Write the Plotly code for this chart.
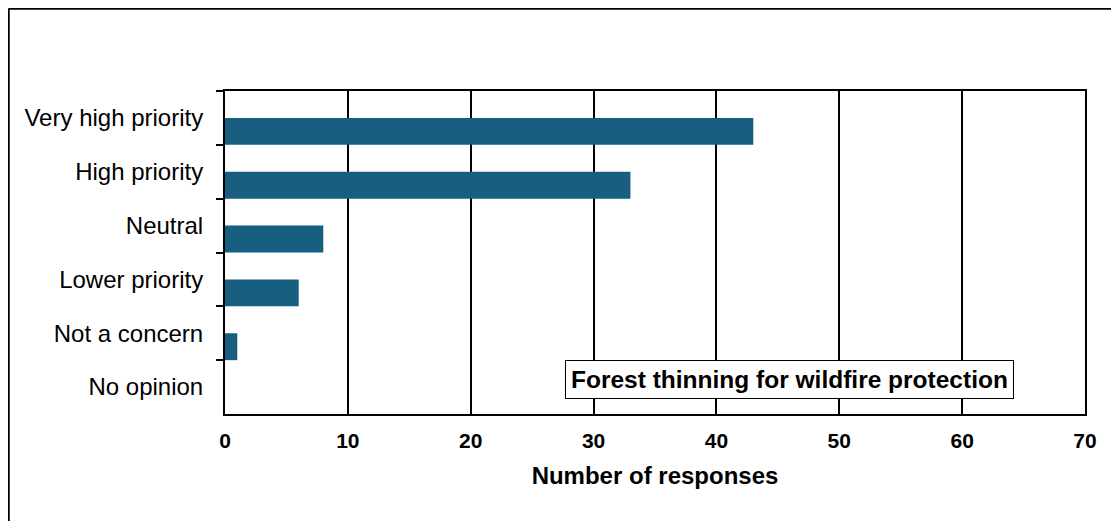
import plotly.graph_objects as go

categories = ["Very high priority", "High priority", "Neutral", "Lower priority", "Not a concern", "No opinion"]
responses = [43, 33, 8, 6, 1, 0]
x_ticks = [0, 10, 20, 30, 40, 50, 60, 70]
x_title = "Number of responses"
chart_label = "Forest thinning for wildfire protection"

# page body has an 8px margin; work in screen pixels and convert
OFF = 8
W, H = 1111, 513
PL, PR, PT, PB = 225, 1085, 91, 414  # plot area in screen pixels
L, T = PL - OFF, PT - OFF
R = W - (PR - OFF)
B = H - (PB - OFF)
pw, ph = PR - PL, PB - PT

def px_x(px):
    return (px - PL) / pw

def px_y(py):
    return (PB - py) / ph

fig = go.Figure()
fig.add_trace(go.Bar(
    y=categories, x=responses, orientation="h",
    marker=dict(color="#175E80", line=dict(width=0)),
    width=0.5, offset=0,
))

font_family = "Arial, Liberation Sans, sans-serif"

fig.update_layout(
    width=W, height=H,
    margin=dict(l=L, r=R, t=T, b=B),
    paper_bgcolor="white", plot_bgcolor="white",
    showlegend=False,
    font=dict(family=font_family, color="black"),
    xaxis=dict(
        range=[0, 70], tickvals=x_ticks, ticktext=[str(v) for v in x_ticks],
        showgrid=True, gridcolor="black", gridwidth=1.5,
        showline=True, linecolor="black", linewidth=2, mirror=True,
        ticks="", zeroline=False,
        tickfont=dict(size=21, family=font_family, weight="bold"),
        ticklabelstandoff=7,
        title=dict(text=x_title, font=dict(size=24, family=font_family, weight="bold"), standoff=16),
    ),
    yaxis=dict(
        categoryorder="array", categoryarray=categories, autorange="reversed",
        showgrid=False, showline=True, linecolor="black", linewidth=2, mirror=True,
        ticks="outside", ticklen=7, tickwidth=1.5, tickcolor="black", tickson="boundaries",
        tickfont=dict(size=24, family=font_family),
        ticklabelstandoff=15,
    ),
    bargap=0.5,
)

fig.add_annotation(
    text="<b>" + chart_label + "</b>",
    xref="paper", yref="paper", x=px_x(789), y=px_y(379.5),
    xanchor="center", yanchor="middle", showarrow=False,
    font=dict(size=24.5, family=font_family, color="black"),
    bgcolor="white", bordercolor="black", borderwidth=1, borderpad=5,
)

# outer frame: only the top and left edges fall inside the picture
fig.add_shape(
    type="line", xref="paper", yref="paper",
    x0=px_x(8.5), y0=px_y(8.5), x1=px_x(1130), y1=px_y(8.5),
    line=dict(color="black", width=2.5), layer="above",
)
fig.add_shape(
    type="line", xref="paper", yref="paper",
    x0=px_x(8.5), y0=px_y(8.5), x1=px_x(8.5), y1=px_y(540),
    line=dict(color="black", width=2.5), layer="above",
)

fig.write_html("out.html")
